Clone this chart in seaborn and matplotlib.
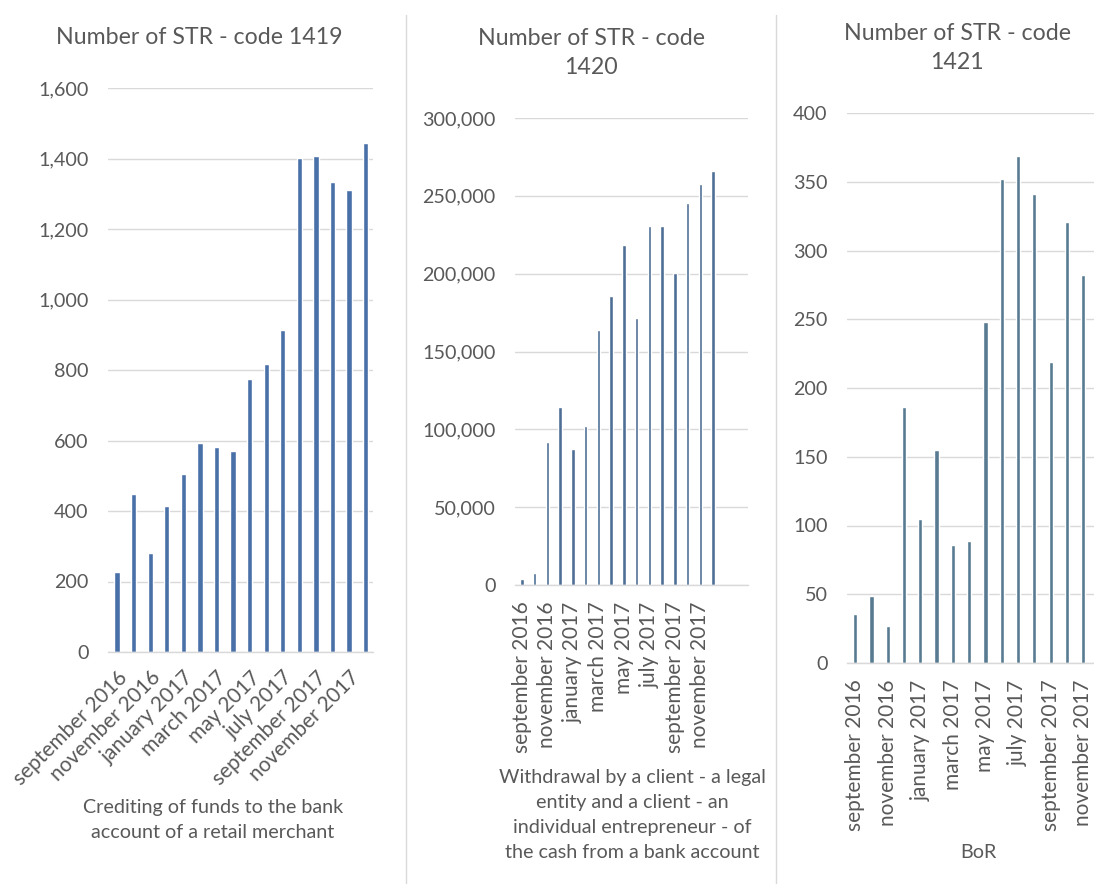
import matplotlib
matplotlib.use("Agg")
import matplotlib.pyplot as plt
from matplotlib.lines import Line2D
import seaborn as sns
import pandas as pd

months = ["september 2016", "october 2016", "november 2016", "december 2016",
          "january 2017", "february 2017", "march 2017", "april 2017",
          "may 2017", "june 2017", "july 2017", "august 2017",
          "september 2017", "october 2017", "november 2017", "december 2017"]

code1419 = [226, 449, 280, 413, 504, 594, 582, 570, 774, 816, 913, 1401,
            1407, 1334, 1311, 1443]
code1420 = [3700, 7900, 92000, 114400, 87100, 102300, 163700, 185700, 218200,
            171800, 230400, 230400, 200500, 245600, 257800, 265900]
code1421 = [36, 49, 27, 186, 105, 155, 86, 89, 248, 352, 369, 341, 219, 321, 282]

titles = ["Number of STR - code 1419", "Number of STR - code\n1420",
          "Number of STR - code\n1421"]
xlabels = ["Crediting of funds to the bank\naccount of a retail merchant",
           "Withdrawal by a client - a legal\nentity and a client - an\nindividual entrepreneur - of\nthe cash from a bank account",
           "BoR"]

sns.set_theme(style="white")
plt.rcParams['font.family'] = ['Lato', 'DejaVu Sans']

W, H = 1094, 884
fig = plt.figure(figsize=(W / 100, H / 100), dpi=100)

def rect(l, r, t, b):
    return [l / W, 1 - b / H, (r - l) / W, (b - t) / H]

TXT = "#595959"
GRID = "#d9d9d9"

panels = [
    dict(vals=code1419, rect=rect(108, 373, 88, 652), ylim=(0, 1600), yticks=range(0, 1601, 200),
         color="#4a70a8", width=0.32, xlim=(-0.55, 15.45), rot=45),
    dict(vals=code1420, rect=rect(515, 748, 118, 585), ylim=(0, 300000), yticks=range(0, 300001, 50000),
         color="#4e6e96", width=0.27, xlim=(-0.55, 17.75), rot=90),
    dict(vals=code1421, rect=rect(847, 1094, 113, 663), ylim=(0, 400), yticks=range(0, 401, 50),
         color="#587b92", width=0.26, xlim=(-0.5, 14.66), rot=90),
]

title_pos = [(199, 38), (591, 53), (957, 48)]
xlabel_pos = [(213, 820), (632, 815), (978, 853)]

for i, p in enumerate(panels):
    ax = fig.add_axes(p["rect"])
    n = len(p["vals"])
    df = pd.DataFrame({"month": months[:n], "value": p["vals"]})
    sns.barplot(data=df, x="month", y="value", color=p["color"], width=p["width"],
                ax=ax, saturation=1, order=months[:n])
    ax.set_xlim(*p["xlim"])
    ax.set_ylim(*p["ylim"])
    ax.set_yticks(list(p["yticks"]))
    ax.set_yticklabels([f"{v:,}" for v in p["yticks"]])
    ax.yaxis.grid(True, color=GRID, linewidth=1)
    ax.set_axisbelow(True)
    for s in ["left", "right", "top"]:
        ax.spines[s].set_visible(False)
    ax.spines["bottom"].set_color(GRID)
    ax.spines["bottom"].set_linewidth(1)
    ax.tick_params(axis="y", length=0, pad=14, labelsize=14.2, labelcolor=TXT)
    idx = list(range(0, n, 2))
    ax.set_xticks(idx)
    if p["rot"] == 45:
        ax.set_xticklabels([months[k] for k in idx], rotation=45, ha="right",
                           rotation_mode="anchor")
        ax.tick_params(axis="x", length=0, pad=11, labelsize=15, labelcolor=TXT)
    else:
        ax.set_xticklabels([months[k] for k in idx], rotation=90, ha="center", va="top")
        ax.tick_params(axis="x", length=0, pad=12, labelsize=15, labelcolor=TXT)
    ax.set_xlabel("")
    ax.set_ylabel("")
    tx, ty = title_pos[i]
    fig.text(tx / W, 1 - ty / H, titles[i], ha="center", va="center",
             fontsize=16.7, color=TXT, linespacing=1.5)
    lx, ly = xlabel_pos[i]
    fig.text(lx / W, 1 - ly / H, xlabels[i], ha="center", va="center",
             fontsize=14.2, color=TXT, linespacing=1.55)

for xs in (406, 776):
    fig.add_artist(Line2D([xs / W, xs / W], [0, 1 - 15 / H], color=GRID, linewidth=1))

fig.savefig("out.png", dpi=100)
